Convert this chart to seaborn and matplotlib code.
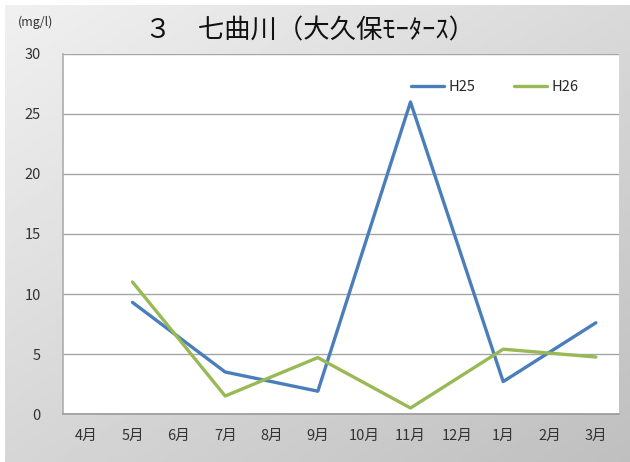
import pandas as pd
import matplotlib.pyplot as plt
import seaborn as sns
import numpy as np

# data
months = ["4月", "5月", "6月", "7月", "8月", "9月", "10月", "11月", "12月", "1月", "2月", "3月"]
h25 = [None, 9.3, None, 3.5, None, 1.9, None, 26.0, None, 2.7, None, 7.6]
h26 = [None, 11.0, None, 1.5, None, 4.7, None, 0.5, None, 5.4, None, 4.75]
series_names = ["H25", "H26"]
colors = {"H25": "#4A7EBB", "H26": "#98B954"}
title = "３　七曲川（大久保ﾓｰﾀｰｽ）"

rows = []
for name, vals in zip(series_names, [h25, h26]):
    for i, v in enumerate(vals):
        if v is not None:
            rows.append({"pos": i, "value": v, "series": name})
df = pd.DataFrame(rows)

sns.set_theme(style="white")
plt.rcParams["font.family"] = ["Noto Sans CJK JP", "DejaVu Sans"]

fig = plt.figure(figsize=(6.3, 4.62), dpi=100)
fig.patch.set_facecolor("white")

# gradient grey backdrop
bg = fig.add_axes([5 / 630, 0, 625 / 630, 457 / 462])
gx, gy = np.meshgrid(np.linspace(0, 1, 200), np.linspace(0, 1, 200))
grad = (240 - 23 * gx - 26 * gy) / 255
bg.imshow(grad, cmap="gray", vmin=0, vmax=1, aspect="auto", extent=[0, 1, 0, 1], origin="upper")
bg.set_axis_off()

ax = fig.add_axes([63 / 630, 1 - 414 / 462, 556 / 630, 360 / 462])
ax.set_facecolor("white")
sns.lineplot(data=df, x="pos", y="value", hue="series", palette=colors,
             linewidth=2.4, ax=ax, legend=False)

ax.set_xlim(-0.5, 11.5)
ax.set_ylim(0, 30)
ax.set_xticks(range(len(months)))
ax.set_xticklabels(months, fontsize=10.5, color="#333333")
ax.set_yticks(range(0, 31, 5))
ax.set_yticklabels([str(v) for v in range(0, 31, 5)], fontsize=10.5, color="#333333")
ax.tick_params(axis="x", pad=11, length=0)
ax.tick_params(axis="y", pad=16, length=0)
ax.set_xlabel("")
ax.set_ylabel("")
ax.grid(axis="y", color="#a6a6a6", linewidth=1)
ax.set_axisbelow(True)
for s in ["top", "right"]:
    ax.spines[s].set_visible(False)
ax.spines["left"].set_color("#b0b0b0")
ax.spines["bottom"].set_color("#9a9a9a")
ax.spines["bottom"].set_linewidth(1.2)

handles = [plt.Line2D([], [], color=colors[n], linewidth=2.4) for n in series_names]
ax.legend(handles, series_names, loc="upper left", bbox_to_anchor=(342 / 556, 0.945), ncol=2,
          frameon=False, fontsize=10.5, handlelength=2.3, handletextpad=0.3, columnspacing=2.6,
          borderaxespad=0)

fig.text(310 / 630, 1 - 31 / 462, title, fontsize=19, ha="center", va="center", color="#111111")
fig.text(18 / 630, 1 - 22 / 462, "(mg/l)", fontsize=9, ha="left", va="center", color="#333333")

fig.savefig("out.png", dpi=100)
